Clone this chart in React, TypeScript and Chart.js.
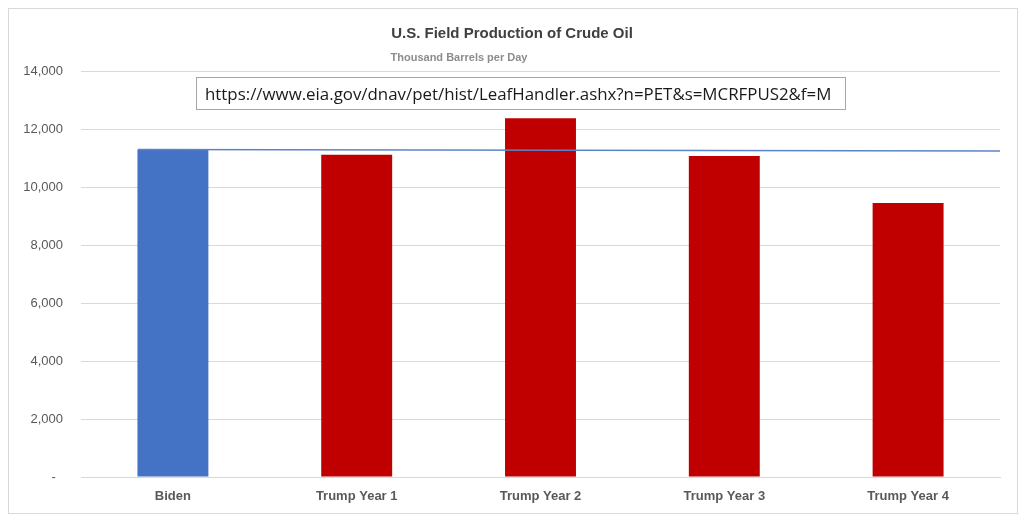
import React, { useEffect, useRef } from "react";
import { Chart, registerables } from "chart.js";

Chart.register(...registerables);

const categories = ["Biden", "Trump Year 1", "Trump Year 2", "Trump Year 3", "Trump Year 4"];
const production = [11290, 11110, 12370, 11070, 9450];
const barColors = ["#4472C4", "#C00000", "#C00000", "#C00000", "#C00000"];
const refLineX = [-0.19, 4.5];
const refLineY = [11290, 11240];
const titleText = "U.S. Field Production of Crude Oil";
const subtitleText = "Thousand Barrels per Day";
const urlText = "https://www.eia.gov/dnav/pet/hist/LeafHandler.ashx?n=PET&s=MCRFPUS2&f=M";

const overlayPlugin = {
  id: "overlay",
  afterDraw(chart: any) {
    const ctx = chart.ctx;
    ctx.save();
    ctx.textAlign = "center";
    ctx.textBaseline = "middle";
    ctx.fillStyle = "#404040";
    ctx.font = "bold 15px 'Liberation Sans', Arial, sans-serif";
    ctx.fillText(titleText, 503, 25);
    ctx.fillStyle = "#8c8c8c";
    ctx.font = "bold 11px 'Liberation Sans', Arial, sans-serif";
    ctx.fillText(subtitleText, 450, 49);
    ctx.fillStyle = "#ffffff";
    ctx.fillRect(187.5, 68.5, 649, 32);
    ctx.strokeStyle = "#a6a6a6";
    ctx.lineWidth = 1;
    ctx.strokeRect(187.5, 68.5, 649, 32);
    let size = 17;
    ctx.font = `${size}px 'Open Sans', 'Liberation Sans', sans-serif`;
    const w = ctx.measureText(urlText).width;
    size = (size * 627) / w;
    ctx.font = `${size}px 'Open Sans', 'Liberation Sans', sans-serif`;
    ctx.textAlign = "left";
    ctx.fillStyle = "#1a1a1a";
    ctx.fillText(urlText, 196, 86);
    ctx.restore();
  },
};

export default function App() {
  const ref = useRef<HTMLCanvasElement>(null);
  useEffect(() => {
    if (!ref.current) return;
    const chart = new Chart(ref.current, {
      type: "bar",
      data: {
        labels: categories,
        datasets: [
          {
            type: "bar",
            data: production,
            backgroundColor: barColors,
            barPercentage: 0.386,
            categoryPercentage: 1,
            grouped: false,
            order: 2,
          } as any,
          {
            type: "line",
            data: refLineX.map((x, i) => ({ x, y: refLineY[i] })),
            xAxisID: "x2",
            borderColor: "#5B83C9",
            borderWidth: 1.5,
            pointRadius: 0,
            fill: false,
            order: 1,
          } as any,
        ],
      },
      options: {
        responsive: false,
        animation: false,
        layout: { padding: { top: 62, right: 17, left: 0, bottom: 0 } },
        plugins: {
          legend: { display: false },
          title: { display: false },
          tooltip: { enabled: false },
        },
        scales: {
          x: {
            type: "category",
            grid: { display: false, drawTicks: false },
            border: { display: true, color: "#d9d9d9" },
            ticks: {
              padding: 12,
              color: "#595959",
              font: { family: "'Liberation Sans', Arial, sans-serif", size: 13, weight: "bold" },
              maxRotation: 0,
            },
            afterFit: (axis: any) => {
              axis.height = 36;
            },
          },
          x2: {
            type: "linear",
            display: false,
            offset: false,
            grid: { offset: false },
            min: -0.5,
            max: 4.5,
          },
          y: {
            min: 0,
            max: 14000,
            ticks: {
              stepSize: 2000,
              padding: 18,
              color: "#595959",
              font: { family: "'Liberation Sans', Arial, sans-serif", size: 13 },
              callback: (v: any) => (v === 0 ? "-  " : Number(v).toLocaleString("en-US")),
            },
            grid: { color: "#d9d9d9", drawTicks: false },
            border: { display: false },
            afterFit: (axis: any) => {
              axis.width = 72;
            },
          },
        },
      },
      plugins: [overlayPlugin],
    });
    return () => chart.destroy();
  }, []);
  return (
    <div style={{ width: 1008, height: 504, border: "1px solid #d9d9d9", background: "#fff" }}>
      <canvas ref={ref} width={1008} height={504} style={{ display: "block" }} />
    </div>
  );
}
